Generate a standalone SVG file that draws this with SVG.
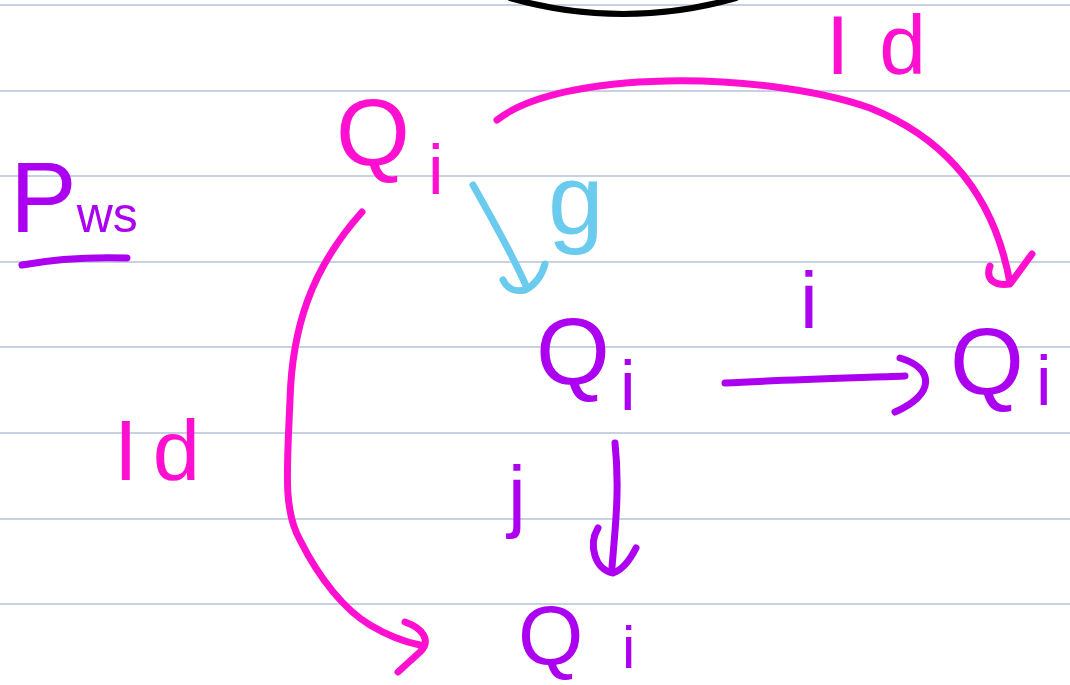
<svg xmlns="http://www.w3.org/2000/svg" width="1070" height="685" viewBox="0 0 1070 685">
<style>
.rule{stroke:#b4c2d9;stroke-width:1.6}
.ln{fill:none;stroke-width:7;stroke-linecap:round;stroke-linejoin:round}
.pink{stroke:#ff10d0}
.purple{stroke:#ac00f0}
.cyan{stroke:#6acbee}
.t{font-family:"Liberation Sans",Arial,sans-serif}
.tp{fill:#ff10d0}
.tv{fill:#ac00f0}
.tc{fill:#6acbee}
</style>
<rect width="1070" height="685" fill="#ffffff"/>
<g id="paper">
<line class="rule" x1="0" y1="5" x2="1070" y2="5"/>
<line class="rule" x1="0" y1="91" x2="1070" y2="91"/>
<line class="rule" x1="0" y1="176" x2="1070" y2="176"/>
<line class="rule" x1="0" y1="262" x2="1070" y2="262"/>
<line class="rule" x1="0" y1="347" x2="1070" y2="347"/>
<line class="rule" x1="0" y1="433" x2="1070" y2="433"/>
<line class="rule" x1="0" y1="519" x2="1070" y2="519"/>
<line class="rule" x1="0" y1="604" x2="1070" y2="604"/>
<path d="M510,-2 Q623,30 736,-2" fill="none" stroke="#000" stroke-width="6" stroke-linecap="round"/>
</g>
<g id="title">
<text class="t tv" x="10" y="232"><tspan font-size="100">P</tspan><tspan font-size="50">ws</tspan></text>
<path class="ln purple" d="M22,265 C60,258 95,257 127,258"/>
</g>
<g id="node-top">
<text class="t tp" x="336" y="165" font-size="95">Q</text>
<text class="t tp" x="428" y="194" font-size="70">i</text>
</g>
<g id="node-mid">
<text class="t tv" x="536" y="384" font-size="95">Q</text>
<text class="t tv" x="620" y="410" font-size="70">i</text>
</g>
<g id="node-right">
<text class="t tv" x="950" y="394" font-size="95">Q</text>
<text class="t tv" x="1036" y="405" font-size="70">i</text>
</g>
<g id="node-bottom">
<text class="t tv" x="518" y="664" font-size="84">Q</text>
<text class="t tv" x="622" y="668" font-size="60">i</text>
</g>
<g id="connectors">
<path class="ln pink" d="M497,120 C560,70 760,70 870,108 C950,140 995,200 1010,283"/>
<path class="ln pink" d="M990,266 C985,280 995,286 1010,284 L1032,254"/>
<path class="ln pink" d="M362,212 C310,270 292,330 290,400 C287,470 283,510 300,540 C320,580 345,610 370,625 C390,637 405,642 420,645"/>
<path class="ln pink" d="M405,622 C422,628 432,640 420,652 L398,672"/>
<path class="ln cyan" d="M473,185 C490,215 515,260 527,288"/>
<path class="ln cyan" d="M503,280 C508,290 515,292 525,290 C535,285 542,275 545,264"/>
<path class="ln purple" d="M725,383 C780,380 850,378 905,376"/>
<path class="ln purple" d="M900,358 C935,368 935,395 895,412"/>
<path class="ln purple" d="M615,443 C620,490 615,530 612,567"/>
<path class="ln purple" d="M598,528 C588,545 595,570 613,573 C622,570 630,560 636,548"/>
</g>
<g id="labels">
<text class="t tp" x="826" y="74" font-size="84" textLength="100" lengthAdjust="spacing">Id</text>
<text class="t tp" x="114" y="480" font-size="85" textLength="86" lengthAdjust="spacing">Id</text>
<text class="t tc" x="548" y="234" font-size="100">g</text>
<text class="t tv" x="800" y="328" font-size="80">i</text>
<text class="t tv" x="508" y="522" font-size="80">j</text>
</g>
</svg>
